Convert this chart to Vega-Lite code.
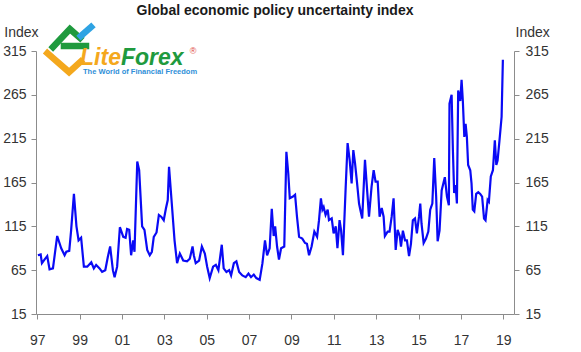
{
  "$schema": "https://vega.github.io/schema/vega-lite/v6.json",
  "width": 478,
  "height": 263,
  "autosize": {"type": "none"},
  "padding": {"left": 36, "top": 51, "right": 67, "bottom": 38},
  "background": "white",
  "title": {"text": "Global economic policy uncertainty index", "font": "Liberation Sans", "fontSize": 14, "fontWeight": "bold", "color": "#1a1a1a", "anchor": "middle", "offset": -4},
  "config": {
    "view": {"stroke": null},
    "axis": {"labelFont": "Liberation Sans", "titleFont": "Liberation Sans", "labelFontSize": 14, "titleFontSize": 14, "labelColor": "#333333", "titleColor": "#333333", "titleFontWeight": "normal", "domainColor": "#8c8c8c", "tickColor": "#8c8c8c", "tickSize": 5, "grid": false}
  },
  "datasets": {
    "epu": [
      {"t": 1997.03, "v": 82}, {"t": 1997.16, "v": 83}, {"t": 1997.22, "v": 73}, {"t": 1997.34, "v": 77}, {"t": 1997.47, "v": 81}, {"t": 1997.58, "v": 66}, {"t": 1997.74, "v": 67}, {"t": 1997.94, "v": 104},
      {"t": 1998.13, "v": 90}, {"t": 1998.29, "v": 82}, {"t": 1998.37, "v": 86}, {"t": 1998.51, "v": 87}, {"t": 1998.60, "v": 111}, {"t": 1998.73, "v": 152}, {"t": 1998.85, "v": 115}, {"t": 1998.95, "v": 99},
      {"t": 1999.07, "v": 102}, {"t": 1999.20, "v": 69}, {"t": 1999.36, "v": 69}, {"t": 1999.55, "v": 74}, {"t": 1999.67, "v": 67}, {"t": 1999.78, "v": 71}, {"t": 1999.94, "v": 67},
      {"t": 2000.06, "v": 63}, {"t": 2000.21, "v": 65}, {"t": 2000.33, "v": 80}, {"t": 2000.44, "v": 92}, {"t": 2000.57, "v": 65}, {"t": 2000.65, "v": 57}, {"t": 2000.77, "v": 69}, {"t": 2000.90, "v": 114},
      {"t": 2001.06, "v": 103}, {"t": 2001.17, "v": 102}, {"t": 2001.24, "v": 112}, {"t": 2001.34, "v": 111}, {"t": 2001.43, "v": 82}, {"t": 2001.53, "v": 99}, {"t": 2001.59, "v": 86}, {"t": 2001.72, "v": 189}, {"t": 2001.81, "v": 179}, {"t": 2001.95, "v": 115},
      {"t": 2002.06, "v": 111}, {"t": 2002.19, "v": 88}, {"t": 2002.31, "v": 82}, {"t": 2002.41, "v": 86}, {"t": 2002.50, "v": 103}, {"t": 2002.63, "v": 108}, {"t": 2002.74, "v": 128}, {"t": 2002.85, "v": 126}, {"t": 2002.97, "v": 122},
      {"t": 2003.07, "v": 135}, {"t": 2003.16, "v": 145}, {"t": 2003.22, "v": 183}, {"t": 2003.35, "v": 141}, {"t": 2003.48, "v": 99}, {"t": 2003.60, "v": 73}, {"t": 2003.73, "v": 84}, {"t": 2003.89, "v": 76},
      {"t": 2004.07, "v": 75}, {"t": 2004.20, "v": 78}, {"t": 2004.33, "v": 92}, {"t": 2004.39, "v": 82}, {"t": 2004.48, "v": 73}, {"t": 2004.64, "v": 76}, {"t": 2004.77, "v": 92}, {"t": 2004.91, "v": 84},
      {"t": 2005.02, "v": 69}, {"t": 2005.14, "v": 56}, {"t": 2005.30, "v": 69}, {"t": 2005.43, "v": 71}, {"t": 2005.55, "v": 65}, {"t": 2005.71, "v": 94}, {"t": 2005.80, "v": 67}, {"t": 2005.93, "v": 63},
      {"t": 2006.06, "v": 65}, {"t": 2006.15, "v": 59}, {"t": 2006.28, "v": 73}, {"t": 2006.40, "v": 75}, {"t": 2006.53, "v": 63}, {"t": 2006.68, "v": 59}, {"t": 2006.84, "v": 57}, {"t": 2006.97, "v": 61},
      {"t": 2007.09, "v": 57}, {"t": 2007.22, "v": 60}, {"t": 2007.34, "v": 56}, {"t": 2007.50, "v": 54}, {"t": 2007.63, "v": 73}, {"t": 2007.75, "v": 99}, {"t": 2007.85, "v": 82}, {"t": 2007.97, "v": 90},
      {"t": 2008.07, "v": 135}, {"t": 2008.16, "v": 104}, {"t": 2008.23, "v": 115}, {"t": 2008.32, "v": 92}, {"t": 2008.41, "v": 77}, {"t": 2008.51, "v": 90}, {"t": 2008.66, "v": 92}, {"t": 2008.76, "v": 200}, {"t": 2008.85, "v": 175}, {"t": 2008.92, "v": 147},
      {"t": 2009.07, "v": 149}, {"t": 2009.17, "v": 151}, {"t": 2009.26, "v": 126}, {"t": 2009.36, "v": 103}, {"t": 2009.51, "v": 101}, {"t": 2009.64, "v": 96}, {"t": 2009.73, "v": 95}, {"t": 2009.83, "v": 82}, {"t": 2009.95, "v": 92},
      {"t": 2010.08, "v": 109}, {"t": 2010.21, "v": 103}, {"t": 2010.30, "v": 122}, {"t": 2010.39, "v": 147}, {"t": 2010.46, "v": 134}, {"t": 2010.52, "v": 137}, {"t": 2010.61, "v": 128}, {"t": 2010.71, "v": 134}, {"t": 2010.77, "v": 122}, {"t": 2010.90, "v": 124}, {"t": 2010.99, "v": 107},
      {"t": 2011.09, "v": 115}, {"t": 2011.17, "v": 90}, {"t": 2011.27, "v": 122}, {"t": 2011.34, "v": 111}, {"t": 2011.43, "v": 82}, {"t": 2011.56, "v": 160}, {"t": 2011.65, "v": 210}, {"t": 2011.75, "v": 190}, {"t": 2011.84, "v": 164}, {"t": 2011.92, "v": 202},
      {"t": 2012.00, "v": 187}, {"t": 2012.09, "v": 166}, {"t": 2012.19, "v": 141}, {"t": 2012.25, "v": 134}, {"t": 2012.34, "v": 124}, {"t": 2012.47, "v": 191}, {"t": 2012.56, "v": 160}, {"t": 2012.66, "v": 126}, {"t": 2012.78, "v": 160}, {"t": 2012.88, "v": 179}, {"t": 2012.97, "v": 166},
      {"t": 2013.07, "v": 166}, {"t": 2013.16, "v": 126}, {"t": 2013.26, "v": 136}, {"t": 2013.35, "v": 126}, {"t": 2013.41, "v": 104}, {"t": 2013.54, "v": 109}, {"t": 2013.63, "v": 109}, {"t": 2013.73, "v": 126}, {"t": 2013.82, "v": 147}, {"t": 2013.92, "v": 88},
      {"t": 2014.01, "v": 111}, {"t": 2014.11, "v": 104}, {"t": 2014.17, "v": 92}, {"t": 2014.26, "v": 110}, {"t": 2014.36, "v": 99}, {"t": 2014.45, "v": 99}, {"t": 2014.55, "v": 81}, {"t": 2014.64, "v": 95}, {"t": 2014.73, "v": 122}, {"t": 2014.83, "v": 124}, {"t": 2014.92, "v": 107},
      {"t": 2015.02, "v": 126}, {"t": 2015.08, "v": 141}, {"t": 2015.14, "v": 118}, {"t": 2015.24, "v": 96}, {"t": 2015.35, "v": 101}, {"t": 2015.46, "v": 109}, {"t": 2015.55, "v": 134}, {"t": 2015.65, "v": 141}, {"t": 2015.74, "v": 193}, {"t": 2015.83, "v": 149}, {"t": 2015.90, "v": 98}, {"t": 2015.99, "v": 110},
      {"t": 2016.09, "v": 156}, {"t": 2016.18, "v": 165}, {"t": 2016.24, "v": 171}, {"t": 2016.34, "v": 149}, {"t": 2016.43, "v": 139}, {"t": 2016.46, "v": 255}, {"t": 2016.56, "v": 265}, {"t": 2016.62, "v": 202}, {"t": 2016.68, "v": 153}, {"t": 2016.75, "v": 162}, {"t": 2016.81, "v": 141}, {"t": 2016.87, "v": 270}, {"t": 2016.97, "v": 258},
      {"t": 2017.03, "v": 282}, {"t": 2017.09, "v": 258}, {"t": 2017.16, "v": 217}, {"t": 2017.22, "v": 232}, {"t": 2017.28, "v": 217}, {"t": 2017.34, "v": 185}, {"t": 2017.44, "v": 179}, {"t": 2017.50, "v": 164}, {"t": 2017.56, "v": 134}, {"t": 2017.63, "v": 132}, {"t": 2017.72, "v": 152}, {"t": 2017.82, "v": 154}, {"t": 2017.91, "v": 152},
      {"t": 2018.00, "v": 149}, {"t": 2018.09, "v": 124}, {"t": 2018.16, "v": 122}, {"t": 2018.26, "v": 145}, {"t": 2018.32, "v": 143}, {"t": 2018.41, "v": 172}, {"t": 2018.51, "v": 179}, {"t": 2018.60, "v": 213}, {"t": 2018.67, "v": 185}, {"t": 2018.73, "v": 190}, {"t": 2018.82, "v": 213}, {"t": 2018.92, "v": 240}, {"t": 2018.98, "v": 305}
    ],
    "logo": [
      {"part": "orange", "i": 1, "t": 1997.48, "v": 312.5},
      {"part": "orange", "i": 2, "t": 1998.50, "v": 291.0},
      {"part": "orange", "i": 3, "t": 1999.05, "v": 303.0},
      {"part": "green", "i": 1, "t": 1997.74, "v": 319.5},
      {"part": "green", "i": 2, "t": 1998.54, "v": 340.1},
      {"part": "green", "i": 3, "t": 1999.02, "v": 329.8},
      {"part": "cross", "i": 1, "t": 1998.26, "v": 320.7},
      {"part": "cross", "i": 2, "t": 1999.30, "v": 320.7},
      {"part": "blue", "i": 1, "t": 1999.06, "v": 332.1},
      {"part": "blue", "i": 2, "t": 1999.54, "v": 342.4}
    ]
  },
  "encoding": {
    "x": {"field": "t", "type": "quantitative", "scale": {"domain": [1996.94, 2019.505], "nice": false, "zero": false},
      "axis": {"values": [1997, 1999, 2001, 2003, 2005, 2007, 2009, 2011, 2013, 2015, 2017, 2019], "labelExpr": "substring(toString(datum.value), 2)", "labelPadding": 14, "title": null, "labelFlush": false, "labelOverlap": false}}
  },
  "layer": [
    {
      "data": {"name": "epu"},
      "mark": {"type": "line", "color": "#0a0af5", "strokeWidth": 2.2, "interpolate": "linear"},
      "encoding": {
        "y": {"field": "v", "type": "quantitative", "scale": {"domain": [15, 315], "nice": false, "zero": false},
          "axis": {"orient": "left", "values": [15, 65, 115, 165, 215, 265, 315], "title": "Index", "titleAngle": 0, "titleAlign": "right", "titleBaseline": "alphabetic", "titleX": 2, "titleY": -15, "labelPadding": 5, "labelFlush": false, "labelOverlap": false}}
      }
    },
    {
      "data": {"name": "logo"},
      "mark": {"type": "line", "strokeWidth": 6.5, "strokeCap": "square", "strokeJoin": "miter"},
      "encoding": {
        "y": {"field": "v", "type": "quantitative",
          "axis": {"orient": "right", "values": [15, 65, 115, 165, 215, 265, 315], "title": "Index", "titleAngle": 0, "titleAlign": "left", "titleBaseline": "alphabetic", "titleX": 1, "titleY": -15, "labelPadding": 6, "labelFlush": false, "labelOverlap": false}},
        "color": {"field": "part", "type": "nominal", "legend": null, "scale": {"domain": ["orange", "green", "cross", "blue"], "range": ["#f4a81d", "#1f9a3e", "#1f9a3e", "#2ea3e3"]}},
        "order": {"field": "i", "type": "quantitative"}
      }
    },
    {
      "data": {"values": [{"label": "Lite", "t": 1999.02, "v": 299}]},
      "mark": {"type": "text", "align": "left", "baseline": "alphabetic", "font": "Liberation Sans", "fontSize": 23, "fontWeight": "bold", "fontStyle": "italic", "color": "#f4a81d"},
      "encoding": {"y": {"field": "v", "type": "quantitative", "axis": null}, "text": {"field": "label"}}
    },
    {
      "data": {"values": [{"label": "Forex", "t": 2000.95, "v": 299}]},
      "mark": {"type": "text", "align": "left", "baseline": "alphabetic", "font": "Liberation Sans", "fontSize": 23, "fontWeight": "bold", "fontStyle": "italic", "color": "#1f9a3e"},
      "encoding": {"y": {"field": "v", "type": "quantitative", "axis": null}, "text": {"field": "label"}}
    },
    {
      "data": {"values": [{"label": "®", "t": 2004.2, "v": 312}]},
      "mark": {"type": "text", "align": "left", "baseline": "alphabetic", "font": "Liberation Sans", "fontSize": 9, "color": "#e0463c"},
      "encoding": {"y": {"field": "v", "type": "quantitative", "axis": null}, "text": {"field": "label"}}
    },
    {
      "data": {"values": [{"label": "The World of Financial Freedom", "t": 1999.16, "v": 289}]},
      "mark": {"type": "text", "align": "left", "baseline": "alphabetic", "font": "Liberation Sans", "fontSize": 7.5, "fontWeight": "bold", "color": "#2f8fd8"},
      "encoding": {"y": {"field": "v", "type": "quantitative", "axis": null}, "text": {"field": "label"}}
    }
  ],
  "resolve": {"axis": {"y": "independent"}}
}
